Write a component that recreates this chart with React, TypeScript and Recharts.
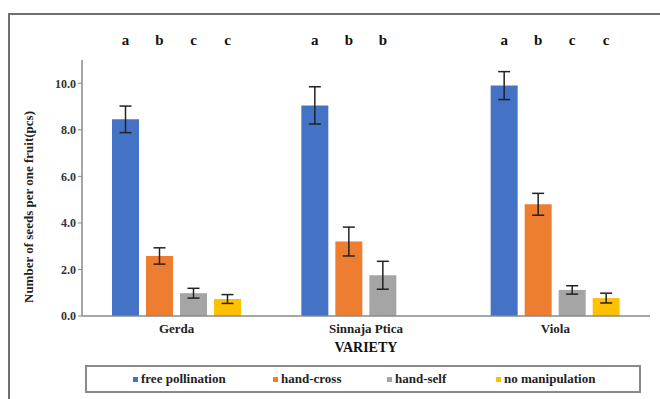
import React from 'react'
import { BarChart, Bar, XAxis, YAxis, ErrorBar, LabelList } from 'recharts'

// values
const categories = ['Gerda', 'Sinnaja Ptica', 'Viola']
const freePollination = [8.45, 9.05, 9.9]
const freePollinationErr = [0.57, 0.8, 0.6]
const handCross = [2.58, 3.2, 4.8]
const handCrossErr = [0.35, 0.62, 0.47]
const handSelf = [0.98, 1.75, 1.12]
const handSelfErr = [0.21, 0.6, 0.18]
const noManipulation: (number | null)[] = [0.73, null, 0.77]
const noManipulationErr: (number | null)[] = [0.19, null, 0.21]
const freeLetters = ['a', 'a', 'a']
const crossLetters = ['b', 'b', 'b']
const selfLetters = ['c', 'b', 'c']
const noneLetters = ['c', '', 'c']
const yTicks = [0, 2, 4, 6, 8, 10]

const series = [
    { key: 'free', name: 'free pollination', color: '#4472C4' },
    { key: 'cross', name: 'hand-cross', color: '#ED7D31' },
    { key: 'self', name: 'hand-self', color: '#A5A5A5' },
    { key: 'none', name: 'no manipulation', color: '#FFC000' },
]

const data = categories.map((c, i) => ({
    variety: c,
    free: freePollination[i], freeErr: freePollinationErr[i], freeLetter: freeLetters[i],
    cross: handCross[i], crossErr: handCrossErr[i], crossLetter: crossLetters[i],
    self: handSelf[i], selfErr: handSelfErr[i], selfLetter: selfLetters[i],
    none: noManipulation[i], noneErr: noManipulationErr[i], noneLetter: noneLetters[i],
}))

const FONT = 'Liberation Serif, DejaVu Serif, serif'

const LetterLabel = (props: any) => {
    const { x, width, value } = props
    if (!value || x == null) return null
    return (
        <text x={x + width / 2} y={45} textAnchor="middle" style={{ fontFamily: FONT }} fontWeight="bold" fontSize={15} fill="#111">
            {value}
        </text>
    )
}

export default function App() {
    return (
        <div style={{ position: 'absolute', left: 0, top: 0, width: 660, height: 399, background: '#fff', overflow: 'hidden', fontFamily: FONT }}>
            <div style={{ position: 'absolute', left: 8, top: 13, width: 700, height: 420, border: '2px solid #6f6f6f' }} />
            <div style={{ position: 'absolute', left: 0, top: 0, fontFamily: FONT }}>
                <BarChart width={660} height={399} data={data} barSize={27} barGap={7}
                    style={{ fontFamily: FONT }}
                    margin={{ top: 60, right: 10, left: 0, bottom: 33 }}>
                    <XAxis dataKey="variety" axisLine={{ stroke: '#8a8a8a', strokeWidth: 1.5 }} tickLine={false}
                        height={50} interval={0}
                        tick={{ style: { fontFamily: FONT }, fontWeight: 'bold', fontSize: 13, fill: '#222' }}
                        label={{ value: 'VARIETY', position: 'insideTop', offset: 26, style: { fontFamily: FONT }, fontWeight: 'bold', fontSize: 14, fill: '#111' }} />
                    <YAxis width={82} domain={[0, 11]} ticks={yTicks} allowDataOverflow
                        tickFormatter={(v: number) => v.toFixed(1)}
                        axisLine={{ stroke: '#8a8a8a', strokeWidth: 1.5 }} tickLine={{ stroke: '#8a8a8a' }} tickSize={4}
                        tick={{ style: { fontFamily: FONT }, fontWeight: 'bold', fontSize: 12, fill: '#333' }}
                        label={{ value: 'Number of seeds per one fruit(pcs)', angle: -90, position: 'insideLeft', offset: 28, dy: 115, style: { fontFamily: FONT }, fontWeight: 'bold', fontSize: 13, fill: '#222' }} />
                    {series.map(s => (
                        <Bar key={s.key} dataKey={s.key} name={s.name} fill={s.color} isAnimationActive={false}>
                            <ErrorBar dataKey={`${s.key}Err`} width={6} stroke="#222" strokeWidth={1.5} direction="y" />
                            <LabelList dataKey={`${s.key}Letter`} content={LetterLabel} />
                        </Bar>
                    ))}
                </BarChart>
            </div>
            <div style={{ position: 'absolute', left: 85, top: 365, width: 552, height: 24, border: '2px solid #8a8a8a', display: 'flex', alignItems: 'center', fontFamily: FONT, fontWeight: 'bold', fontSize: 13, color: '#222' }}>
                {series.map((s, i) => (
                    <div key={s.key} style={{ position: 'absolute', left: [46, 186, 300, 409][i], display: 'flex', alignItems: 'center' }}>
                        <span style={{ display: 'inline-block', width: 5, height: 5, background: s.color, marginRight: 3 }} />
                        {s.name}
                    </div>
                ))}
            </div>
        </div>
    )
}
